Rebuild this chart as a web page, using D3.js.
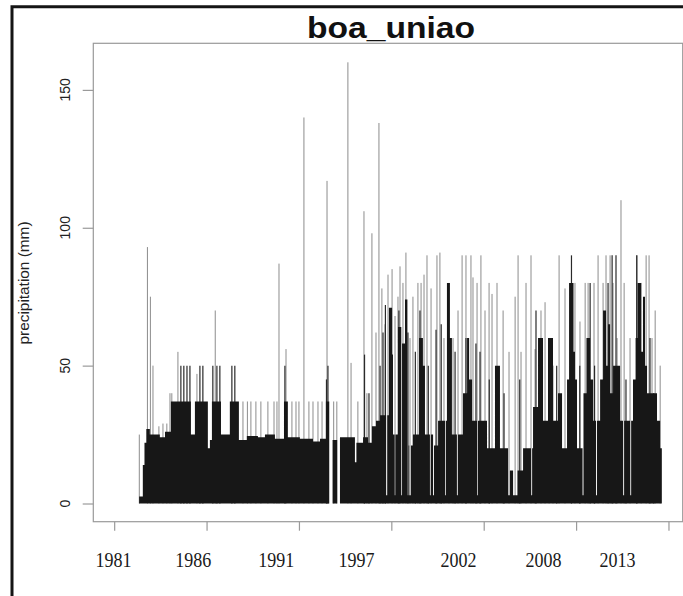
<!DOCTYPE html>
<html><head><meta charset="utf-8">
<script src="https://cdn.jsdelivr.net/npm/d3@7"></script>
<style>html,body{margin:0;padding:0;background:#fff;} svg{display:block}</style>
</head><body>
<svg id="c" width="683" height="596"></svg>
<script>
const title = "boa_uniao";
const yLabel = "precipitation (mm)";
const yTicks = [0, 50, 100, 150];
const xTickYears = [1980, 1985, 1990, 1995, 2000, 2005, 2010];
const xLabels = ["1981", "1986", "1991", "1997", "2002", "2008", "2013"];
const xLabelYears = [1979.96, 1984.28, 1988.77, 1993.12, 1998.64, 2003.23, 2007.24];

// dense daily mass: level reached by most days from each date on (step profile)
const stepYear = [1981.35,1981.55,1981.64,1981.74,1981.93,1982.47,1982.75,1983.07,1984.15,1984.37,
  1985.07,1985.18,1985.29,1985.78,1986.26,1986.75,1987.18,1987.78,1988.16,1988.70,
  1989.19,1989.40,1990.05,1990.76,1991.14,1991.46,1991.64,1991.82,1992.07,1992.22,
  1993.03,1993.11,1993.47,1993.74,1993.95,1994.17,1994.39,1994.72,1994.78,1994.87,
  1995.04,1995.09,1995.18,1995.22,1995.36,1995.54,1995.58,1995.74,1995.87,1995.93,
  1995.97,1996.06,1996.17,1996.50,1996.71,1996.82,1997.09,1997.14,1997.26,1997.31,
  1997.53,1997.91,1997.95,1998.01,1998.17,1998.28,1998.55,1998.61,1998.88,1999.10,
  1999.21,1999.37,1999.64,1999.69,2000.18,2000.61,2000.88,2001.32,2001.42,2001.59,
  2001.83,2002.13,2002.56,2002.62,2002.67,2002.94,2003.21,2003.48,2003.75,2004.02,
  2004.24,2004.51,2004.62,2004.86,2004.94,2005.05,2005.35,2005.40,2005.56,2005.76,
  2005.92,2006.08,2006.13,2006.30,2006.46,2006.62,2006.73,2006.84,2007.00,2007.38,
  2007.54,2007.60,2007.92,2007.98,2008.08,2008.22,2008.33,2008.52,2008.62,2008.73,
  2008.84,2009.38,2009.55,2009.64];
const stepLevel = [2.5,14,22,27,25,24,26,37,25,37,
  20,23,37,25,37,23,24.5,24,25,23.5,
  37,24,23.5,22.5,23.5,37,0,23,0,24,
  15,22,24,22,28,30,32,3,32,71,
  54,25,3,25,64,3,58,74,3,21,
  3,21,25,60,50,25,3,25,3,21,
  30,3,30,80,60,25,3,25,40,60,
  45,30,3,30,20,50,20,3,12,3,
  12,20,3,20,35,60,30,60,30,40,
  20,45,80,55,45,20,3,40,60,45,
  30,3,30,45,70,50,65,40,50,30,
  3,30,3,30,45,60,80,55,75,50,
  40,30,20,0];

// isolated single-day peaks
const peakYear = [1981.36,1981.80,1981.96,1982.10,1982.42,1982.64,1982.85,1983.02,1983.12,1983.45,
  1984.48,1985.47,1986.97,1987.21,1987.40,1987.67,1987.94,1988.32,1988.65,1988.81,
  1988.92,1989.30,1989.62,1989.84,1990.00,1990.27,1990.54,1990.76,1991.03,1991.25,
  1991.52,1991.88,1992.05,1992.65,1992.82,1993.19,1993.52,1993.68,1993.95,1994.17,
  1994.33,1994.49,1994.66,1994.82,1995.04,1995.20,1995.36,1995.47,1995.63,1995.79,
  1996.01,1996.17,1996.44,1996.61,1996.77,1996.93,1997.15,1997.47,1997.63,1997.85,
  1998.12,1998.34,1998.61,1998.83,1999.04,1999.31,1999.42,1999.64,1999.85,2000.07,
  2000.29,2000.45,2000.72,2001.05,2001.37,2001.70,2001.86,2002.02,2002.29,2002.56,
  2002.78,2003.10,2003.32,2003.54,2003.75,2004.08,2004.40,2004.94,2005.21,2005.49,
  2005.65,2005.97,2006.19,2006.46,2006.62,2006.84,2007.00,2007.22,2007.43,2007.60,
  2007.92,2008.30,2008.52,2008.79,2008.95,2009.11,2009.28,2009.55];
const peakValue = [25,93,75,50,28,29,29,40,40,55,
  47,70,37,37,37,37,37,37,37,37,
  87,56,37,37,37,140,37,37,37,37,
  117,37,37,160,51,37,106,40,98,62,
  138,78,65,83,85,68,75,86,80,91,
  60,75,80,80,83,90,78,90,91,60,
  80,60,70,90,90,90,82,80,90,70,
  80,76,80,70,55,75,90,55,80,90,
  56,70,73,50,50,90,78,80,66,80,
  80,80,90,80,90,90,80,60,110,80,
  60,90,80,90,90,60,70,50];

// values repeated on several nearby days (overlapping lines)
const clusterYear = [1983.61,1983.77,1983.94,1984.10,1984.64,1984.80,1985.34,1985.56,1985.72,1986.37,
  1986.53,1989.24,1991.49,1991.57,1993.55,1993.79,1994.39,1994.55,1994.68,1995.41,
  1995.90,1996.30,1996.55,1997.00,1997.42,1997.70,1998.45,1999.04,1999.58,1999.80,
  2000.30,2001.10,2001.95,2002.83,2003.95,2004.75,2005.20,2005.76,2006.00,2006.73,
  2006.95,2007.16,2007.70,2008.28,2009.00,2009.20];
const clusterValue = [50,50,50,50,50,50,50,50,50,50,
  50,50,45,50,54,40,50,62,72,70,
  62,55,70,50,63,65,55,60,58,55,
  45,40,45,70,50,90,50,80,50,80,
  90,90,45,90,60,40];

const W = 683, H = 596;
const plot = {left: 93.3, right: 682.7, top: 43.3, bottom: 521.7};
const svg = d3.select("#c");
const x = d3.scaleLinear().domain([1978.87, 2010.77]).range([plot.left, plot.right]);
const y = d3.scaleLinear().domain([-6.6, 166.9]).range([plot.bottom, plot.top]);

svg.append("rect").attr("width", W).attr("height", H).attr("fill", "#fff");

// outer screenshot frame
svg.append("path").attr("d", "M12,596 V6.8 H683").attr("fill", "none")
  .attr("stroke", "#151515").attr("stroke-width", 3);

const gData = svg.append("g");
const peaks = peakYear.map((t, i) => ({t, v: peakValue[i]}));
gData.append("g").selectAll("line").data(peaks).join("line")
  .attr("x1", d => x(d.t)).attr("x2", d => x(d.t))
  .attr("y1", y(0)).attr("y2", d => y(d.v))
  .attr("stroke", "#8c8c8c").attr("stroke-width", 1);

const clusters = clusterYear.map((t, i) => ({t, v: clusterValue[i]}));
gData.append("g").selectAll("line").data(clusters).join("line")
  .attr("x1", d => x(d.t)).attr("x2", d => x(d.t))
  .attr("y1", y(0)).attr("y2", d => y(d.v))
  .attr("stroke", "#2a2a2a").attr("stroke-width", 1.2);

const steps = stepYear.map((t, i) => ({t, v: stepLevel[i]}));
const area = d3.area().x(d => x(d.t)).y0(y(0)).y1(d => y(d.v)).curve(d3.curveStepAfter);
gData.append("path").datum(steps).attr("d", area).attr("fill", "#171717");

// plot box
svg.append("rect").attr("x", plot.left).attr("y", plot.top)
  .attr("width", plot.right - plot.left).attr("height", plot.bottom - plot.top)
  .attr("fill", "none").attr("stroke", "#9a9a9a").attr("stroke-width", 1.2);

// y axis
const gy = svg.append("g").attr("transform", `translate(${plot.left},0)`)
  .call(d3.axisLeft(y).tickValues(yTicks).tickSize(10.6).tickFormat(""));
gy.select(".domain").remove();
gy.selectAll("line").attr("stroke", "#9a9a9a").attr("stroke-width", 1.2);
svg.append("g").selectAll("text").data(yTicks).join("text")
  .attr("transform", d => `translate(70,${y(d)}) rotate(-90)`)
  .attr("text-anchor", "middle")
  .attr("font-family", "Liberation Sans, Arial, sans-serif")
  .attr("font-size", 15.5).attr("fill", "#222")
  .attr("textLength", d => String(d).length * 7.8).attr("lengthAdjust", "spacingAndGlyphs")
  .text(d => d);

// x axis
const gx = svg.append("g").attr("transform", `translate(0,${plot.bottom})`)
  .call(d3.axisBottom(x).tickValues(xTickYears).tickSize(9).tickFormat(""));
gx.select(".domain").remove();
gx.selectAll("line").attr("stroke", "#9a9a9a").attr("stroke-width", 1.2);
svg.append("g").selectAll("text").data(xLabels).join("text")
  .attr("x", (d, i) => x(xLabelYears[i])).attr("y", 567)
  .attr("text-anchor", "middle")
  .attr("font-family", "Liberation Serif, Times New Roman, serif")
  .attr("font-size", 20).attr("fill", "#1a1a1a")
  .attr("textLength", 36).attr("lengthAdjust", "spacingAndGlyphs")
  .text(d => d);

// y label
svg.append("text").attr("transform", "translate(28.5,283) rotate(-90)")
  .attr("text-anchor", "middle")
  .attr("font-family", "Liberation Sans, Arial, sans-serif")
  .attr("font-size", 14).attr("fill", "#222")
  .attr("textLength", 123).attr("lengthAdjust", "spacingAndGlyphs")
  .text(yLabel);

// title
svg.append("text").attr("x", 391).attr("y", 38)
  .attr("text-anchor", "middle")
  .attr("font-family", "Liberation Sans, Arial, sans-serif")
  .attr("font-weight", "bold").attr("font-size", 30).attr("fill", "#111")
  .attr("textLength", 168).attr("lengthAdjust", "spacingAndGlyphs")
  .text(title);
</script>
</body></html>
